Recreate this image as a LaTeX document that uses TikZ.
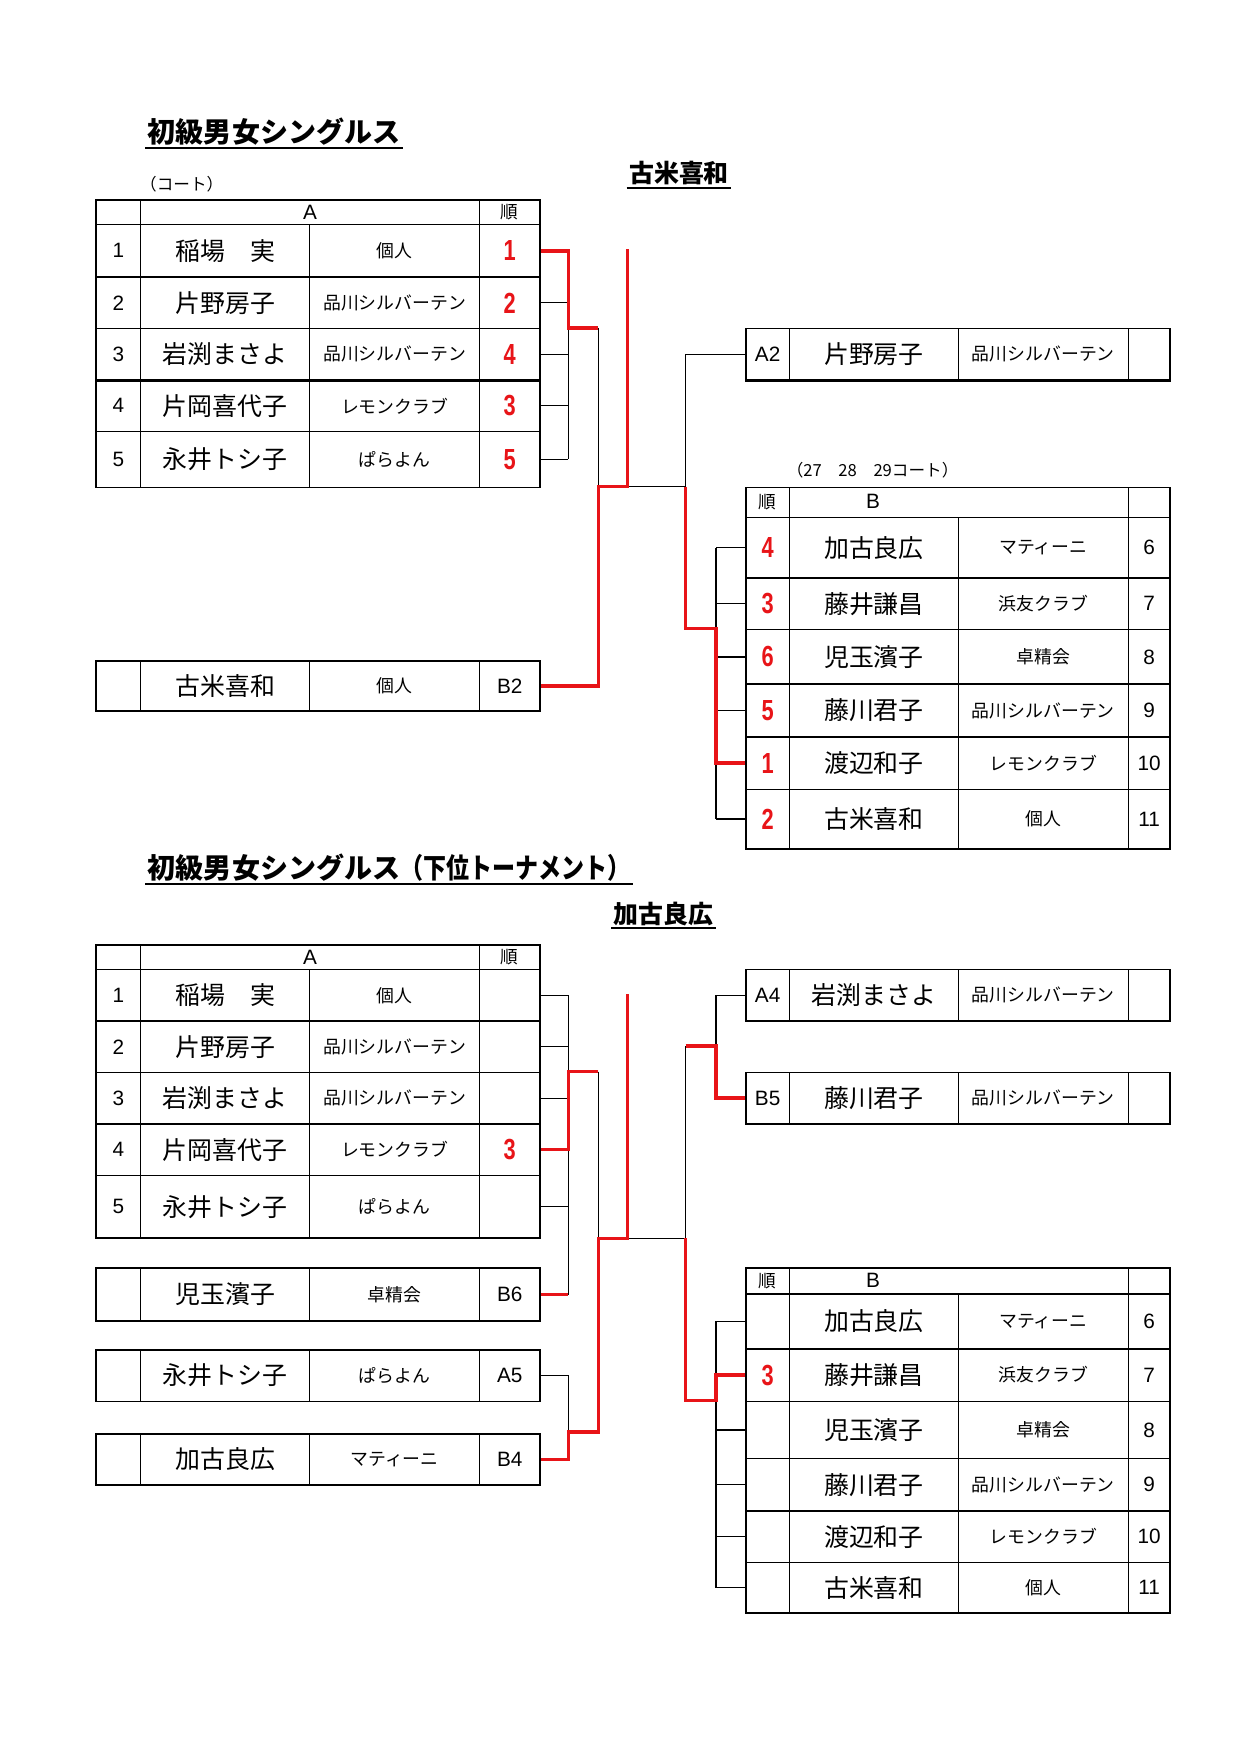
\documentclass[tikz,border=0pt]{standalone}
\usepackage{fontspec}
\setmainfont{Liberation Sans}
\newfontfamily\jp{Noto Sans CJK JP}
\usepackage{graphicx}
\definecolor{rankred}{RGB}{232,20,24}
\newcommand\pxu{0.18936mm}
\newcommand\namefont{\jp\fontsize{12}{14}\selectfont}
\newcommand\clubfont{\jp\fontsize{8.6}{10}\selectfont}
\newcommand\numfont{\fontsize{10}{12}\selectfont}
\newcommand\rk[1]{\textcolor{rankred}{\bfseries\fontsize{14}{16}\selectfont\scalebox{0.75}[1]{#1}}}
% left row: prefix, top, height, no, name, club, rank
\newcommand\lrow[7]{%
  \node[cell,minimum width=40*\pxu,minimum height=#3*\pxu,font=\numfont] (#1-n) at (85,#2) {#4};
  \node[cell,minimum width=151*\pxu,minimum height=#3*\pxu,font=\namefont] (#1-m) at (125,#2) {#5};
  \node[cell,minimum width=152*\pxu,minimum height=#3*\pxu,font=\clubfont] (#1-c) at (276,#2) {#6};
  \node[cell,minimum width=54*\pxu,minimum height=#3*\pxu,font=\numfont] (#1-r) at (428,#2) {#7};}
% right row: prefix, top, height, rank, name, club, no
\newcommand\rrow[7]{%
  \node[cell,minimum width=39*\pxu,minimum height=#3*\pxu,font=\numfont] (#1-r) at (666,#2) {#4};
  \node[cell,minimum width=151*\pxu,minimum height=#3*\pxu,font=\namefont] (#1-m) at (705,#2) {#5};
  \node[cell,minimum width=152*\pxu,minimum height=#3*\pxu,font=\clubfont] (#1-c) at (856,#2) {#6};
  \node[cell,minimum width=37*\pxu,minimum height=#3*\pxu,font=\numfont] (#1-n) at (1008,#2) {#7};}
\newcommand\lhead[3]{%
  \node[cell,minimum width=40*\pxu,minimum height=#3*\pxu] (#1-h0) at (85,#2) {};
  \node[cell,minimum width=303*\pxu,minimum height=#3*\pxu,font=\numfont] (#1-h1) at (125,#2) {A};
  \node[cell,minimum width=54*\pxu,minimum height=#3*\pxu,font=\jp\fontsize{8.5}{10}\selectfont] (#1-h2) at (428,#2) {順};}
\newcommand\rhead[3]{%
  \node[cell,minimum width=39*\pxu,minimum height=#3*\pxu,font=\jp\fontsize{8.5}{10}\selectfont] (#1-h0) at (666,#2) {順};
  \node[cell,minimum width=303*\pxu,minimum height=#3*\pxu] (#1-h1) at (705,#2) {};
  \node[cell,minimum width=37*\pxu,minimum height=#3*\pxu] (#1-h2) at (1008,#2) {};
  \node[font=\numfont] (#1-ht) at (780.5,#2+#3/2) {B};}

\begin{document}
\begin{tikzpicture}[x=\pxu,y=-\pxu,
  cell/.style={draw,line width=0.8pt,inner sep=0pt,anchor=north west},
  bline/.style={line width=0.6pt},
  rline/.style={draw=rankred,line width=1.7pt},
  ttl/.style={font=\jp\bfseries\fontsize{13.5}{16}\selectfont,inner sep=1pt,anchor=west},
  hname/.style={font=\jp\bfseries\fontsize{12}{14}\selectfont,inner sep=1pt},
  note/.style={font=\jp\fontsize{8}{10}\selectfont,inner sep=0pt,anchor=west}
]
  \useasboundingbox[fill=white] (0,0) rectangle (1109,1568);

  % upper tournament
  \node[ttl] (t1) at (130,118) {初級男女シングルス};
  \draw[line width=0.9pt] (t1.south west) -- (t1.south east);
  \node[hname] (h1) at (607,155) {古米喜和};
  \draw[line width=0.9pt] (h1.south west) -- (h1.south east);
  \node[note] (n1) at (125,165) {（コート）};
  \node[note] (n2) at (703,420) {（27　28　29コート）};

  \lhead{ua}{178}{22}
  \lrow{ua1}{200}{47}{1}{稲場　実}{個人}{\rk{1}}
  \lrow{ua2}{247}{46}{2}{片野房子}{品川シルバーテン}{\rk{2}}
  \lrow{ua3}{293}{46}{3}{岩渕まさよ}{品川シルバーテン}{\rk{4}}
  \lrow{ua4}{339}{46}{4}{片岡喜代子}{レモンクラブ}{\rk{3}}
  \lrow{ua5}{385}{50}{5}{永井トシ子}{ぱらよん}{\rk{5}}
  \draw[line width=1.5pt] (ua3-n.south west) -- (ua3-r.south east);
  \lrow{uB2}{590}{45}{}{古米喜和}{個人}{B2}

  \rrow{uA2}{293}{46}{A2}{片野房子}{品川シルバーテン}{}
  \draw[line width=1.5pt] (uA2-r.south west) -- (uA2-n.south east);
  \rhead{ub}{435}{27}
  \rrow{ub1}{462}{54}{\rk{4}}{加古良広}{マティーニ}{6}
  \rrow{ub2}{516}{46}{\rk{3}}{藤井謙昌}{浜友クラブ}{7}
  \rrow{ub3}{562}{49}{\rk{6}}{児玉濱子}{卓精会}{8}
  \rrow{ub4}{611}{47}{\rk{5}}{藤川君子}{品川シルバーテン}{9}
  \rrow{ub5}{658}{47}{\rk{1}}{渡辺和子}{レモンクラブ}{10}
  \rrow{ub6}{705}{53}{\rk{2}}{古米喜和}{個人}{11}

  \coordinate (uj1) at (508,293);
  \coordinate (uj2) at (535,435);
  \coordinate (uj3) at (561,223);
  \coordinate (uj4) at (613,435);
  \coordinate (uj5) at (640,562);

  \foreach \i in {2,...,5} \draw[bline] (ua\i-r.east) -- (ua\i-r.east -| uj1);
  \draw[bline] (ua1-r.east -| uj1) -- (ua5-r.east -| uj1);
  \draw[bline] (uj1 -| uj2) -- (uj2);
  \draw[bline] (uj2 -| uj3) -- (uj4) |- (uA2-r.west);
  \draw[bline] (ub1-r.west -| uj5) -- (ub6-r.west -| uj5);
  \foreach \i in {1,...,6} \draw[bline] (ub\i-r.west) -- (ub\i-r.west -| uj5);
  \draw[rline] (ua1-r.east) -| (uj1) -- (uj1 -| uj2);
  \draw[rline] (uB2-r.east) -| (uj2) -- (uj2 -| uj3) -- (uj3);
  \draw[rline] (uj4) |- (uj5) |- (ub5-r.west);

  % lower tournament
  \node[ttl] (t2) at (130,776) {初級男女シングルス\scalebox{0.82}[1]{（下位トーナメント）}};
  \draw[line width=0.9pt] (t2.south west) -- (t2.south east);
  \node[hname] (h2) at (593,817) {加古良広};
  \draw[line width=0.9pt] (h2.south west) -- (h2.south east);

  \lhead{la}{844}{22}
  \lrow{la1}{866}{46}{1}{稲場　実}{個人}{}
  \lrow{la2}{912}{46}{2}{片野房子}{品川シルバーテン}{}
  \lrow{la3}{958}{46}{3}{岩渕まさよ}{品川シルバーテン}{}
  \lrow{la4}{1004}{46}{4}{片岡喜代子}{レモンクラブ}{\rk{3}}
  \lrow{la5}{1050}{56}{5}{永井トシ子}{ぱらよん}{}
  \lrow{lB6}{1133}{47}{}{児玉濱子}{卓精会}{B6}
  \lrow{lA5}{1206}{46}{}{永井トシ子}{ぱらよん}{A5}
  \lrow{lB4}{1281}{46}{}{加古良広}{マティーニ}{B4}

  \rrow{lA4}{866}{46}{A4}{岩渕まさよ}{品川シルバーテン}{}
  \rrow{lB5}{958}{46}{B5}{藤川君子}{品川シルバーテン}{}
  \rhead{lb}{1133}{23}
  \rrow{lb1}{1156}{49}{}{加古良広}{マティーニ}{6}
  \rrow{lb2}{1205}{47}{\rk{3}}{藤井謙昌}{浜友クラブ}{7}
  \rrow{lb3}{1252}{51}{}{児玉濱子}{卓精会}{8}
  \rrow{lb4}{1303}{47}{}{藤川君子}{品川シルバーテン}{9}
  \rrow{lb5}{1350}{46}{}{渡辺和子}{レモンクラブ}{10}
  \rrow{lb6}{1396}{45}{}{古米喜和}{個人}{11}

  \coordinate (lj1) at (508,958);
  \coordinate (lj2) at (535,1107);
  \coordinate (lj3) at (561,889);
  \coordinate (lj4) at (613,1107);
  \coordinate (lj5) at (640,1252);
  \coordinate (lj6) at (508,1280);
  \coordinate (lj7) at (613,935);
  \coordinate (lj8) at (640,935);

  \foreach \i in {1,2,3,5} \draw[bline] (la\i-r.east) -- (la\i-r.east -| lj1);
  \draw[bline] (la1-r.east -| lj1) -- (lB6-r.east -| lj1);
  \draw[bline] (lj1 -| lj2) -- (lj2);
  \draw[bline] (lA5-r.east) -| (lj6);
  \draw[bline] (lj2 -| lj3) -- (lj4) -- (lj7);
  \draw[bline] (lA4-r.west) -| (lj8);
  \draw[bline] (lb1-r.west -| lj5) -- (lb6-r.west -| lj5);
  \foreach \i in {1,3,4,5,6} \draw[bline] (lb\i-r.west) -- (lb\i-r.west -| lj5);
  \draw[rline] (la4-r.east) -| (lj1) -- (lj1 -| lj2);
  \draw[rline] (lB6-r.east) -- (lB6-r.east -| lj1);
  \draw[rline] (lB4-r.east) -| (lj6) -- (lj6 -| lj2) -- (lj2) -- (lj2 -| lj3) -- (lj3);
  \draw[rline] (lj7) -- (lj8) |- (lB5-r.west);
  \draw[rline] (lj4) |- (lj5) |- (lb2-r.west);
\end{tikzpicture}
\end{document}
